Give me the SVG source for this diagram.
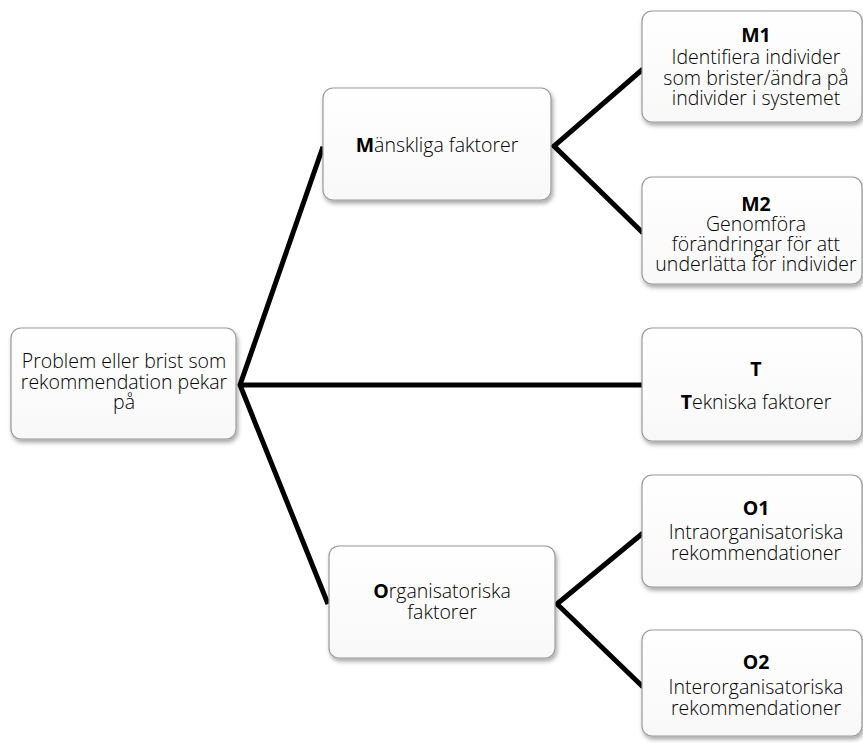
<svg xmlns="http://www.w3.org/2000/svg" width="863" height="743" viewBox="0 0 863 743">
<defs>
<linearGradient id="bg" x1="0" y1="0" x2="0" y2="1">
<stop offset="0" stop-color="#ffffff"/>
<stop offset="1" stop-color="#f8f8f8"/>
</linearGradient>
<filter id="sh" x="-10%" y="-10%" width="125%" height="130%">
<feDropShadow dx="1.5" dy="3" stdDeviation="2" flood-color="#000" flood-opacity="0.35"/>
</filter>
<style>
.box{fill:url(#bg);stroke:#9a9a9a;stroke-width:1.2;filter:url(#sh)}
.t{font-family:"Open Sans","Liberation Sans",sans-serif;font-size:19.5px;font-weight:300;fill:#000;text-anchor:middle}
.b{font-weight:700}
.c{fill:none;stroke:#000;stroke-width:5;stroke-linejoin:miter;stroke-linecap:butt}
</style>
</defs>
<rect width="863" height="743" fill="#fff"/>
<g id="connectors">
<path class="c" d="M323,146.7 L240,385 L328,604"/>
<path class="c" d="M240,385 L643,385"/>
<path class="c" d="M643,69 L554,146 L643,233"/>
<path class="c" d="M643,533 L557,604 L643,687"/>
</g>
<g id="root">
<rect class="box" x="11" y="328" width="225" height="111" rx="10"/>
<text class="t"><tspan x="124" y="368">Problem eller brist som</tspan><tspan x="124" y="388.5">rekommendation pekar</tspan><tspan x="124" y="409">på</tspan></text>
</g>
<g id="M">
<rect class="box" x="323" y="88" width="228" height="112" rx="10"/>
<text class="t" x="437" y="152"><tspan class="b">M</tspan>änskliga faktorer</text>
</g>
<g id="O">
<rect class="box" x="329" y="546" width="226" height="112" rx="10"/>
<text class="t"><tspan x="442" y="598"><tspan class="b">O</tspan>rganisatoriska</tspan><tspan x="442" y="619">faktorer</tspan></text>
</g>
<g id="M1">
<rect class="box" x="642" y="11" width="220" height="111" rx="10"/>
<text class="t"><tspan class="b" x="756" y="42">M1</tspan><tspan x="756" y="64">Identifiera individer</tspan><tspan x="756" y="84.5">som brister/ändra på</tspan><tspan x="756" y="105">individer i systemet</tspan></text>
</g>
<g id="M2">
<rect class="box" x="642" y="177" width="220" height="107" rx="10"/>
<text class="t"><tspan class="b" x="756" y="211">M2</tspan><tspan x="756" y="231">Genomföra</tspan><tspan x="756" y="251">förändringar för att</tspan><tspan x="756" y="271">underlätta för individer</tspan></text>
</g>
<g id="T">
<rect class="box" x="642" y="328" width="220" height="113" rx="10"/>
<text class="t"><tspan class="b" x="756" y="376">T</tspan><tspan x="756" y="409"><tspan class="b">T</tspan>ekniska faktorer</tspan></text>
</g>
<g id="O1">
<rect class="box" x="642" y="475" width="220" height="112" rx="10"/>
<text class="t"><tspan class="b" x="756" y="515">O1</tspan><tspan x="756" y="539">Intraorganisatoriska</tspan><tspan x="756" y="560">rekommendationer</tspan></text>
</g>
<g id="O2">
<rect class="box" x="642" y="630" width="220" height="106" rx="10"/>
<text class="t"><tspan class="b" x="756" y="669">O2</tspan><tspan x="756" y="694">Interorganisatoriska</tspan><tspan x="756" y="715">rekommendationer</tspan></text>
</g>
</svg>
